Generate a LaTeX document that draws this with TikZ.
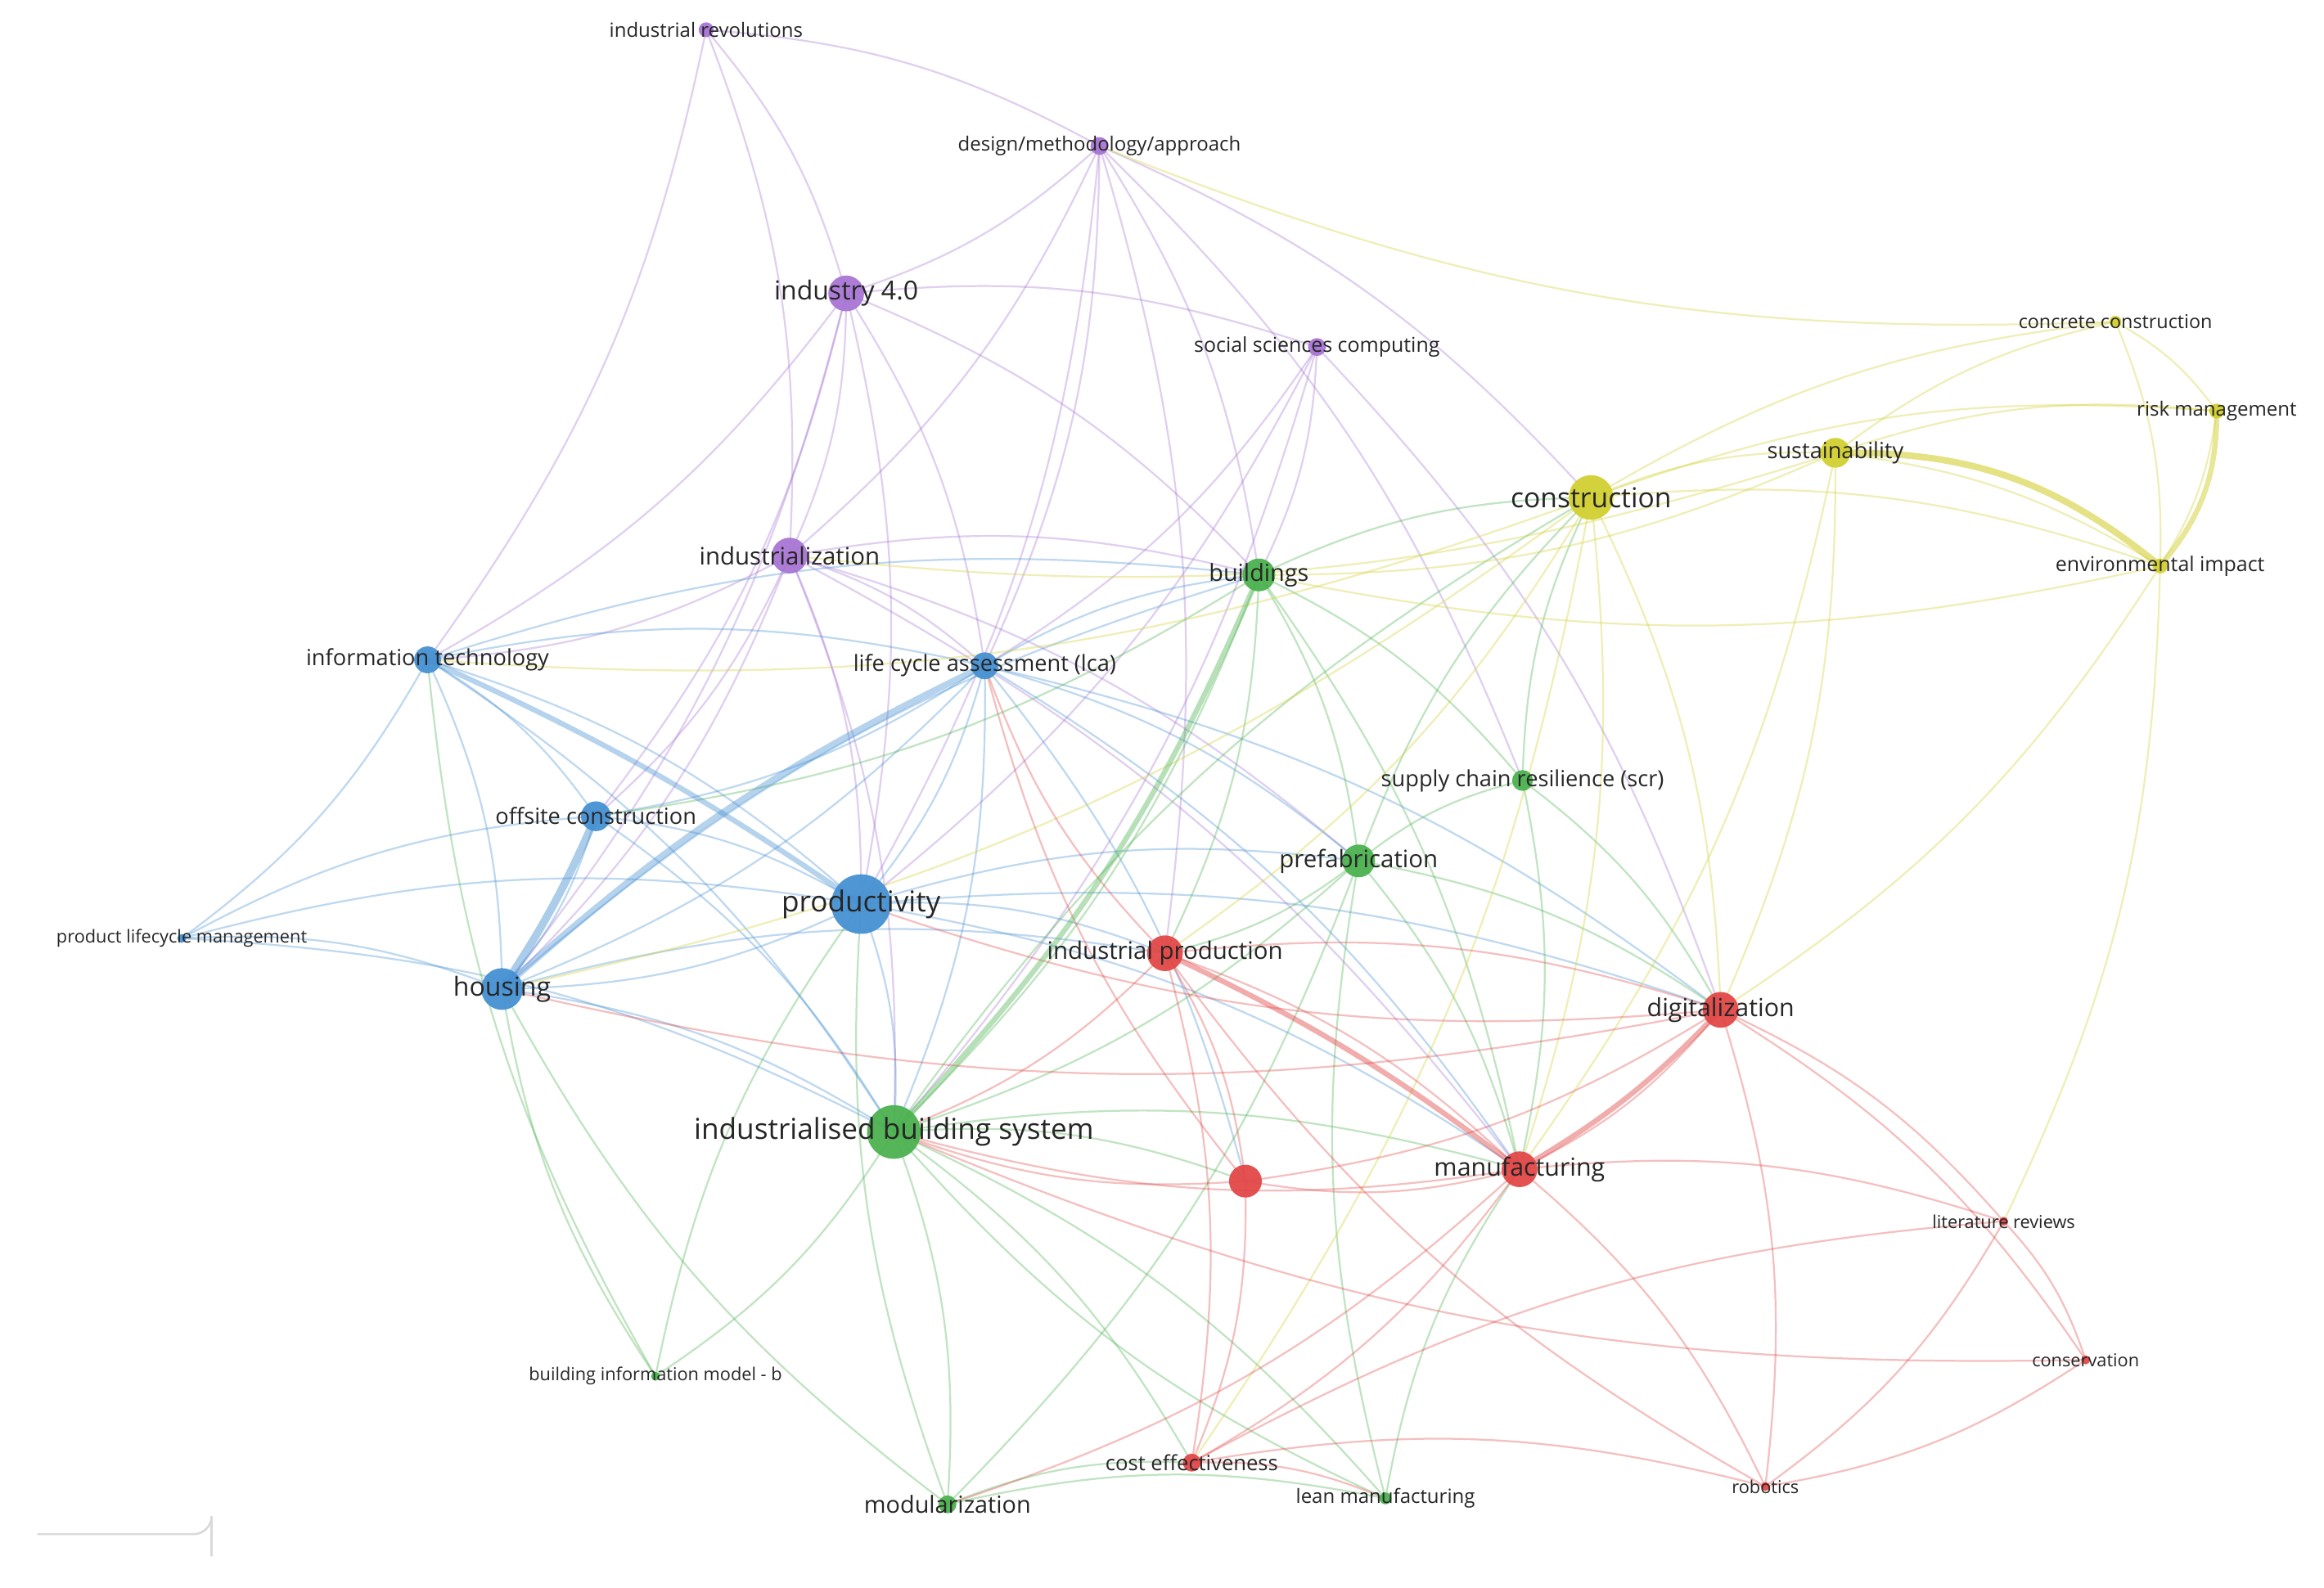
\documentclass[tikz,border=0pt]{standalone}
\usepackage{fontspec}
\setmainfont{Open Sans}
\begin{document}
\definecolor{cP}{RGB}{168,118,212}
\definecolor{cB}{RGB}{70,145,210}
\definecolor{cG}{RGB}{76,178,80}
\definecolor{cY}{RGB}{210,208,50}
\definecolor{cR}{RGB}{226,72,72}
\begin{tikzpicture}[x=0.02cm,y=-0.02cm,
  nd/.style={circle,inner sep=0pt,minimum size=#1,fill opacity=0.95},
  lb/.style={font=\fontsize{#1}{#1}\selectfont,text=black!85,inner sep=0pt},
  ed/.style={draw=#1,line width=0.7pt,draw opacity=0.35,bend left=12}]
\useasboundingbox (0,0) rectangle (1560,1066);
\fill[white] (0,0) rectangle (1560,1066);
% coordinates
\coordinate (ir) at (474,20);
\coordinate (des) at (738,98);
\coordinate (i40) at (568,197);
\coordinate (ssc) at (884,233);
\coordinate (ind) at (530,373);
\coordinate (it) at (287,443);
\coordinate (lca) at (661,447);
\coordinate (off) at (400,548);
\coordinate (prod) at (578,607);
\coordinate (hou) at (337,664);
\coordinate (plm) at (122,630);
\coordinate (bld) at (845,386);
\coordinate (scr) at (1022,524);
\coordinate (pre) at (912,578);
\coordinate (ibs) at (600,760);
\coordinate (bim) at (440,924);
\coordinate (mod) at (636,1010);
\coordinate (lean) at (930,1006);
\coordinate (con) at (1068,334);
\coordinate (sus) at (1232,304);
\coordinate (cc) at (1420,216);
\coordinate (risk) at (1488,276);
\coordinate (env) at (1450,380);
\coordinate (ip) at (782,640);
\coordinate (dig) at (1155,678);
\coordinate (man) at (1020,785);
\coordinate (red) at (836,793);
\coordinate (lit) at (1345,820);
\coordinate (cons) at (1400,913);
\coordinate (rob) at (1185,998);
\coordinate (cost) at (800,982);
% edges
\foreach \a/\b in {ir/i40,ir/des,ir/ind,ir/it,des/i40,des/bld,des/lca,des/prod,des/con,des/ind,des/scr,i40/ind,i40/lca,i40/prod,i40/it,i40/bld,i40/hou,i40/off,i40/ssc,ssc/bld,ssc/dig,ssc/prod,ssc/lca,ind/lca,ind/prod,ind/hou,ind/off,ind/ibs,ind/bld,ind/pre,ind/man,ind/it,ssc/ibs,des/ip}
  \draw[ed=cP] (\a) to (\b);
\foreach \a/\b in {it/lca,it/off,it/hou,it/prod,it/plm,it/ibs,it/bld,lca/off,lca/prod,lca/hou,lca/ibs,lca/bld,lca/red,lca/man,lca/pre,lca/dig,off/hou,off/prod,off/ibs,prod/hou,prod/ibs,prod/man,prod/dig,prod/pre,prod/ip,plm/hou,plm/prod,plm/off,plm/ibs,hou/ibs,hou/ip,hou/bld}
  \draw[ed=cB] (\a) to (\b);
\foreach \a/\b in {bld/pre,bld/ibs,bld/scr,bld/con,bld/ip,bld/man,bld/off,pre/ibs,pre/scr,pre/con,pre/man,pre/dig,pre/ip,pre/mod,ibs/mod,ibs/bim,ibs/cost,ibs/red,ibs/man,ibs/lean,ibs/con,scr/con,scr/dig,scr/man,mod/cost,mod/lean,mod/prod,mod/hou,bim/hou,bim/prod,bim/it,lean/man,lean/pre,lean/ibs}
  \draw[ed=cG] (\a) to (\b);
\foreach \a/\b in {con/sus,con/env,con/risk,con/cc,con/dig,con/man,con/ip,con/hou,con/it,con/cost,sus/env,sus/risk,sus/cc,sus/dig,sus/man,sus/bld,risk/env,cc/env,cc/risk,env/lit,env/dig,env/bld,sus/ind,cc/des}
  \draw[ed=cY] (\a) to (\b);
\foreach \a/\b in {ip/man,ip/dig,ip/red,ip/cost,ip/ibs,ip/lca,dig/man,dig/red,dig/lit,dig/rob,dig/cons,dig/hou,dig/prod,man/red,man/cost,man/lit,man/rob,man/ibs,man/mod,red/cost,red/lca,red/ibs,cost/lit,cost/rob,cost/lean,lit/cons,lit/rob,cons/rob,cons/ibs,rob/ip}
  \draw[ed=cR] (\a) to (\b);
% thicker key links
\draw[cB,line width=3pt,opacity=0.45] (off) to[bend left=5] (hou);
\draw[cB,line width=2.5pt,opacity=0.4] (lca) to[bend right=8] (hou);
\draw[cB,line width=2pt,opacity=0.4] (it) to[bend left=5] (prod);
\draw[cY,line width=2.5pt,opacity=0.6] (sus) to[bend left=20] (env);
\draw[cY,line width=2pt,opacity=0.5] (risk) to[bend left=20] (env);
\draw[cR,line width=2pt,opacity=0.45] (ip) to[bend left=6] (man);
\draw[cR,line width=2pt,opacity=0.45] (dig) to[bend left=8] (man);
\draw[cG,line width=2pt,opacity=0.4] (bld) to[bend left=10] (ibs);
% bottom-left artifact
\draw[black!15,line width=0.8pt] (25,1030) -- (130,1030) arc[start angle=90,end angle=0,radius=12] -- (142,1045);
% nodes
\foreach \c/\col/\s in {ir/cP/10,des/cP/12,i40/cP/24,ssc/cP/12,ind/cP/24,it/cB/18,lca/cB/18,off/cB/20,prod/cB/40,hou/cB/28,plm/cB/6,bld/cG/22,scr/cG/14,pre/cG/22,ibs/cG/36,bim/cG/6,mod/cG/12,lean/cG/8,con/cY/30,sus/cY/20,cc/cY/8,risk/cY/10,env/cY/10,ip/cR/24,dig/cR/24,man/cR/24,red/cR/22,lit/cR/6,cons/cR/6,rob/cR/6,cost/cR/12}
  \node[nd=\s*0.02cm,fill=\col] at (\c) {};
% labels
\node[lb=7.5] at (ir) {industrial revolutions};
\node[lb=7.5] at (des) {design/methodology/approach};
\node[lb=10] at (i40) {industry 4.0};
\node[lb=7.8] at (ssc) {social sciences computing};
\node[lb=9.2] at (ind) {industrialization};
\node[lb=8.5] at (it) {information technology};
\node[lb=8.5] at (lca) {life cycle assessment (lca)};
\node[lb=8.5] at (off) {offsite construction};
\node[lb=11] at (prod) {productivity};
\node[lb=10] at (hou) {housing};
\node[lb=6.8] at (plm) {product lifecycle management};
\node[lb=9] at (bld) {buildings};
\node[lb=8.5] at (scr) {supply chain resilience (scr)};
\node[lb=9.2] at (pre) {prefabrication};
\node[lb=11] at (ibs) {industrialised building system};
\node[lb=6.8] at (bim) {building information model - b};
\node[lb=9] at (mod) {modularization};
\node[lb=7.5] at (lean) {lean manufacturing};
\node[lb=10.5] at (con) {construction};
\node[lb=8.5] at (sus) {sustainability};
\node[lb=7.3] at (cc) {concrete construction};
\node[lb=7.5] at (risk) {risk management};
\node[lb=7.8] at (env) {environmental impact};
\node[lb=9.2] at (ip) {industrial production};
\node[lb=9.5] at (dig) {digitalization};
\node[lb=9.5] at (man) {manufacturing};
\node[lb=6.8] at (lit) {literature reviews};
\node[lb=6.8] at (cons) {conservation};
\node[lb=6.8] at (rob) {robotics};
\node[lb=8] at (cost) {cost effectiveness};
\end{tikzpicture}
\end{document}
